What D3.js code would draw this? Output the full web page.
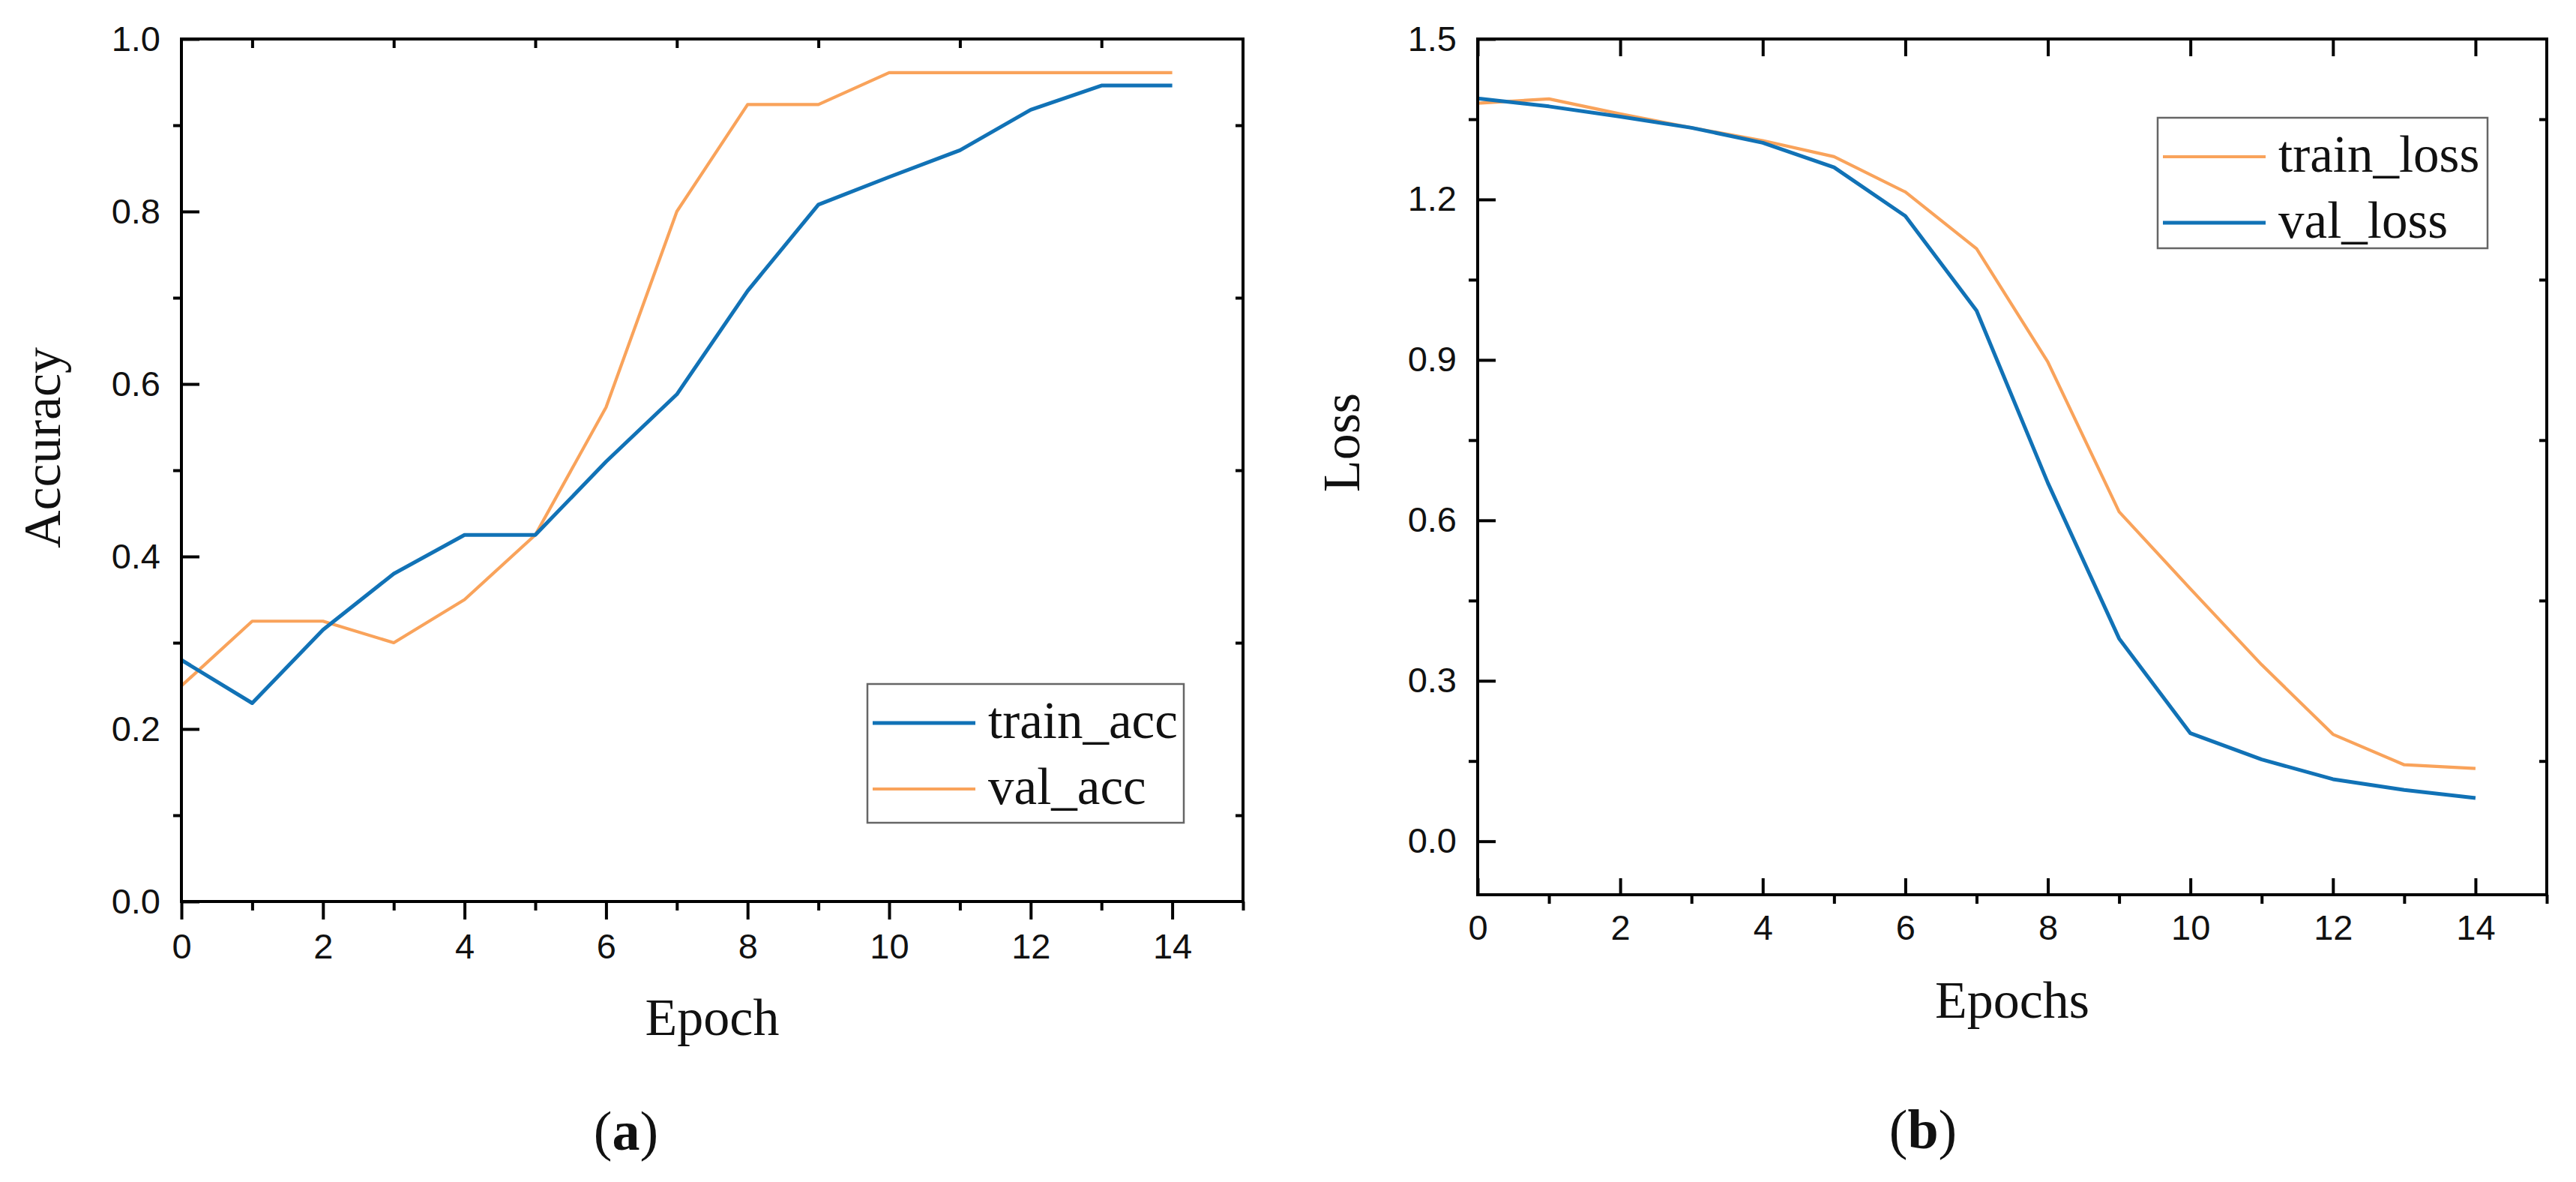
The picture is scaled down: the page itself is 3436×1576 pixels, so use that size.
<!DOCTYPE html>
<html>
<head>
<meta charset="utf-8">
<script src="https://cdn.jsdelivr.net/npm/d3@7"></script>
<style>
  body { margin: 0; background: #fff; }
  svg { display: block; background: #fff; }
  .tick text { font-family: "Liberation Sans", Arial, sans-serif; font-size: 47px; fill: #111; }
  .title { font-family: "Liberation Serif", "Times New Roman", serif; font-size: 70px; fill: #111; }
  .legend text { font-family: "Liberation Serif", "Times New Roman", serif; font-size: 69px; fill: #111; }
  .caption { font-family: "Liberation Serif", "Times New Roman", serif; font-size: 74px; fill: #111; }
</style>
</head>
<body>
<script>
// data
const epochs = [0, 1, 2, 3, 4, 5, 6, 7, 8, 9, 10, 11, 12, 13, 14];

const trainAcc = [0.280, 0.230, 0.315, 0.380, 0.425, 0.425, 0.510, 0.588, 0.708, 0.808, 0.840, 0.871, 0.918, 0.946, 0.946];
const valAcc   = [0.250, 0.325, 0.325, 0.300, 0.350, 0.425, 0.573, 0.800, 0.924, 0.924, 0.961, 0.961, 0.961, 0.961, 0.961];

const trainLoss = [1.380, 1.388, 1.360, 1.334, 1.310, 1.280, 1.214, 1.108, 0.896, 0.616, 0.472, 0.330, 0.200, 0.143, 0.136];
const valLoss   = [1.389, 1.374, 1.355, 1.334, 1.306, 1.260, 1.169, 0.992, 0.670, 0.379, 0.202, 0.153, 0.116, 0.096, 0.081];

// tick values
const epochMajor = [0, 2, 4, 6, 8, 10, 12, 14];
const epochMinor = [1, 3, 5, 7, 9, 11, 13, 15];
const accMajor = [0, 0.2, 0.4, 0.6, 0.8, 1.0];
const accMinor = [0.1, 0.3, 0.5, 0.7, 0.9];
const lossMajor = [0, 0.3, 0.6, 0.9, 1.2, 1.5];
const lossMinor = [0.15, 0.45, 0.75, 1.05, 1.35];

const blue = '#1172b6';
const orange = '#f9a35b';

const svg = d3.select('body').append('svg')
  .attr('width', 3436)
  .attr('height', 1576);

// one axis piece: ticks only, no domain line (the frame is a rect)
function addAxis(gen, scale, values, size, pos, labels, padding) {
  const axis = gen(scale)
    .tickValues(values)
    .tickSizeInner(size)
    .tickSizeOuter(0)
    .tickPadding(padding || 0)
    .tickFormat(labels ? labels : () => '');
  const g = svg.append('g').attr('transform', pos).call(axis);
  g.select('.domain').remove();
  g.selectAll('.tick line').attr('stroke', '#000').attr('stroke-width', 4);
  return g;
}

function drawLines(x, y, series) {
  const line = d3.line()
    .x((d, i) => x(epochs[i]))
    .y(d => y(d));
  series.forEach(s => {
    svg.append('path')
      .datum(s.values)
      .attr('fill', 'none')
      .attr('stroke', s.color)
      .attr('stroke-width', s.width)
      .attr('stroke-linejoin', 'round')
      .attr('d', line);
  });
}

function drawFrame(x, y) {
  svg.append('rect')
    .attr('x', x.range()[0])
    .attr('y', y.range()[1])
    .attr('width', x.range()[1] - x.range()[0])
    .attr('height', y.range()[0] - y.range()[1])
    .attr('fill', 'none')
    .attr('stroke', '#000')
    .attr('stroke-width', 4);
}

function drawLegend(bx, by, bw, bh, rows) {
  const g = svg.append('g').attr('class', 'legend');
  g.append('rect')
    .attr('x', bx).attr('y', by)
    .attr('width', bw).attr('height', bh)
    .attr('fill', '#fff')
    .attr('stroke', '#666')
    .attr('stroke-width', 2.5);
  rows.forEach((r, i) => {
    const ly = by + 52 + i * 88;
    g.append('line')
      .attr('x1', bx + 7).attr('x2', bx + 144)
      .attr('y1', ly).attr('y2', ly)
      .attr('stroke', r.color)
      .attr('stroke-width', r.width);
    g.append('text')
      .attr('x', bx + 161)
      .attr('y', ly + 20)
      .text(r.name);
  });
}

const fmt1 = d3.format('.1f');
const fmt0 = d3.format('d');

// ---------- (a) Accuracy ----------
const xA = d3.scaleLinear().domain([0, 15]).range([242, 1658]);
const yA = d3.scaleLinear().domain([0, 1]).range([1202, 52]);

const seriesA = [
  { name: 'train_acc', values: trainAcc, color: blue, width: 5 },
  { name: 'val_acc', values: valAcc, color: orange, width: 4.2 }
];
drawLines(xA, yA, [seriesA[1], seriesA[0]]);
drawFrame(xA, yA);

addAxis(d3.axisBottom, xA, epochMajor, 24, 'translate(0,1202)', fmt0, 19);
addAxis(d3.axisBottom, xA, epochMinor, 12, 'translate(0,1202)');
addAxis(d3.axisLeft, yA, accMajor, -24, 'translate(242,0)', fmt1, 28);
addAxis(d3.axisLeft, yA, accMinor, 11, 'translate(242,0)');
addAxis(d3.axisTop, xA, epochMinor.slice(0, -1), -12, 'translate(0,52)');
addAxis(d3.axisRight, yA, accMinor, -10, 'translate(1658,0)');

svg.append('text')
  .attr('class', 'title')
  .attr('text-anchor', 'middle')
  .attr('transform', 'translate(80,597) rotate(-90)')
  .text('Accuracy');
svg.append('text')
  .attr('class', 'title')
  .attr('text-anchor', 'middle')
  .attr('x', 950).attr('y', 1380)
  .text('Epoch');

drawLegend(1157, 912, 422, 185, seriesA);

// ---------- (b) Loss ----------
const xB = d3.scaleLinear().domain([0, 15]).range([1971, 3397]);
const yB = d3.scaleLinear().domain([-0.1, 1.5]).range([1193, 52]);

const seriesB = [
  { name: 'train_loss', values: trainLoss, color: orange, width: 4.2 },
  { name: 'val_loss', values: valLoss, color: blue, width: 5 }
];
drawLines(xB, yB, seriesB);
drawFrame(xB, yB);

addAxis(d3.axisBottom, xB, epochMajor, -22, 'translate(0,1193)', fmt0, 27);
addAxis(d3.axisBottom, xB, epochMinor, 12, 'translate(0,1193)');
addAxis(d3.axisLeft, yB, lossMajor, -24, 'translate(1971,0)', fmt1, 28);
addAxis(d3.axisLeft, yB, lossMinor, 12, 'translate(1971,0)');
addAxis(d3.axisTop, xB, epochMajor, -23, 'translate(0,52)');
addAxis(d3.axisRight, yB, lossMinor, -10, 'translate(3397,0)');

svg.append('text')
  .attr('class', 'title')
  .attr('text-anchor', 'middle')
  .attr('transform', 'translate(1813,590) rotate(-90)')
  .text('Loss');
svg.append('text')
  .attr('class', 'title')
  .attr('text-anchor', 'middle')
  .attr('x', 2684).attr('y', 1357)
  .text('Epochs');

drawLegend(2878, 157, 440, 174, seriesB);

// captions (a) (b)
[['a', 835, 1533], ['b', 2565, 1531]].forEach(([c, cx, cy]) => {
  const t = svg.append('text')
    .attr('class', 'caption')
    .attr('text-anchor', 'middle')
    .attr('x', cx).attr('y', cy);
  t.append('tspan').text('(');
  t.append('tspan').attr('font-weight', 'bold').text(c);
  t.append('tspan').text(')');
});
</script>
</body>
</html>
